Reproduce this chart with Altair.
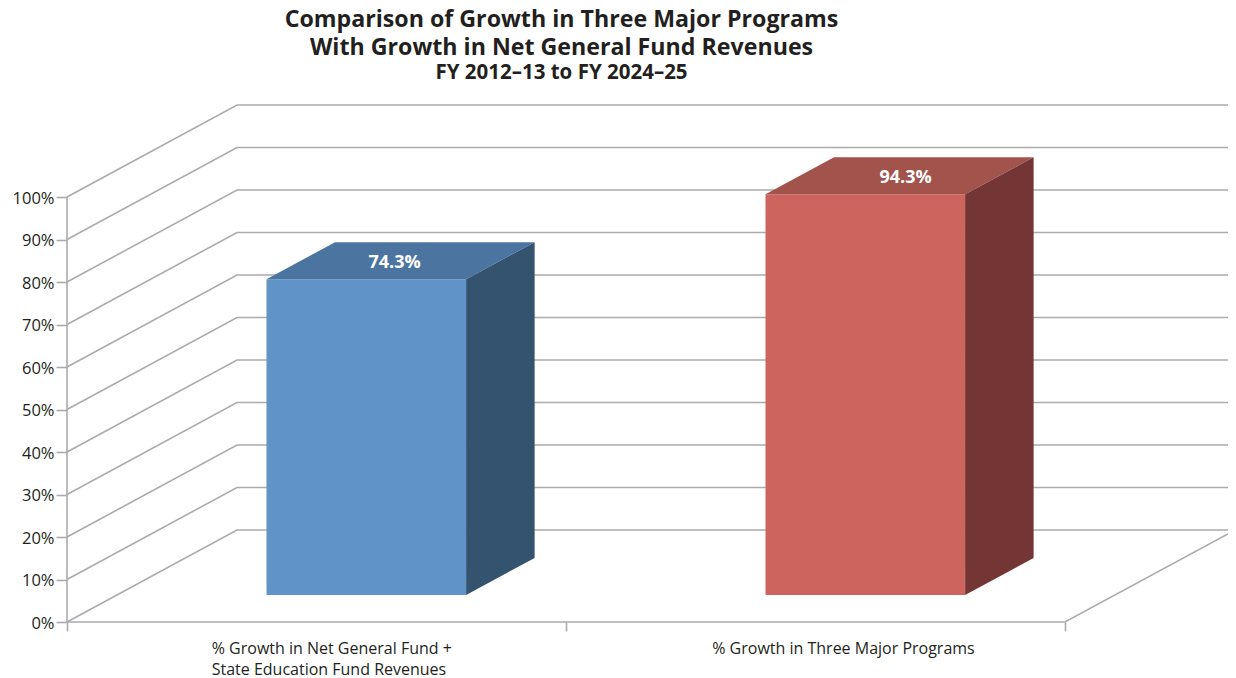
import altair as alt
import pandas as pd

categories = ["% Growth in Net General Fund +|State Education Fund Revenues", "% Growth in Three Major Programs"]
values = [74.3, 94.3]
labels = ["74.3%", "94.3%"]
ticks = [0, 10, 20, 30, 40, 50, 60, 70, 80, 90, 100]
front_colors = ["#6094C9", "#CD655E"]
top_colors = ["#4B75A0", "#A2534B"]
side_colors = ["#34536F", "#743634"]

FONT = "Open Sans"
INK = "#231F20"
GRID = "#ABABAE"
DX = 170 / 499      # depth of the floor, in category slots
DY = 92 / 4.25      # depth of the floor, in percent units
D0, D1 = 0.293, 0.696
HALF = 0.2
NUDGE = [-0.012, 0.012]
WIDTH = 1161
XMAX, YMAX = 2 + DX, 100 + DY
XDOM = WIDTH / 499

x = alt.X("x:Q", scale=alt.Scale(domain=[0, XDOM], nice=False, zero=False),
          axis=alt.Axis(values=[0, 1, 2], labels=False, domain=False, grid=False,
                        tickSize=9, tickWidth=1.6, tickColor=GRID, title=None))
y = alt.Y("y:Q", scale=alt.Scale(domain=[0, YMAX], nice=False, zero=False),
          axis=alt.Axis(values=ticks, labelExpr="datum.value + '%'", domain=False, grid=False,
                        tickSize=11, tickWidth=1.6, tickColor=GRID, labelPadding=2, labelOffset=1,
                        labelFont=FONT, labelFontSize=16.5, labelColor=INK, title=None))

grid_rows = []
for t in ticks:
    grid_rows += [
        {"id": t, "o": 0, "x": 0, "y": t},
        {"id": t, "o": 1, "x": DX, "y": t + DY},
        {"id": t, "o": 2, "x": XMAX, "y": t + DY},
    ]
grid_rows += [
    {"id": -1, "o": 0, "x": 0, "y": 0},
    {"id": -1, "o": 1, "x": 2, "y": 0},
    {"id": -1, "o": 2, "x": XMAX, "y": DY},
]
grid = alt.Chart(pd.DataFrame(grid_rows)).mark_line(color=GRID, strokeWidth=1.6).encode(
    x=x, y=y, detail="id:N", order="o:Q"
)
y_line = alt.Chart(pd.DataFrame({"x": [0], "y": [0], "y2": [100]})).mark_rule(
    color=GRID, strokeWidth=1.6
).encode(x=x, y=y, y2="y2:Q")

front_rows, top_rows, side_rows, label_rows = [], [], [], []
for i, v in enumerate(values):
    c = i + 0.5
    front_rows.append({"i": i, "x": c - HALF + D0 * DX, "x2": c + HALF + D0 * DX,
                       "y": D0 * DY, "y2": v + D0 * DY, "c": front_colors[i]})
    for d in (D0, D1):
        top_rows.append({"i": i, "y": v + d * DY, "x": c - HALF + d * DX, "x2": c + HALF + d * DX, "c": top_colors[i]})
        side_rows.append({"i": i, "x": c + HALF + d * DX, "y": d * DY, "y2": v + d * DY, "c": side_colors[i]})
    m = (D0 + D1) / 2
    label_rows.append({"x": c + m * DX + NUDGE[i], "y": v + m * DY - 0.5, "t": labels[i]})

front = alt.Chart(pd.DataFrame(front_rows)).mark_rect().encode(
    x=x, x2="x2:Q", y=y, y2="y2:Q", color=alt.Color("c:N", scale=None)
)
top = alt.Chart(pd.DataFrame(top_rows)).mark_area(orient="horizontal").encode(
    y=y, x=x, x2="x2:Q", detail="i:N", color=alt.Color("c:N", scale=None)
)
side = alt.Chart(pd.DataFrame(side_rows)).mark_area(orient="vertical").encode(
    x=x, y=y, y2="y2:Q", detail="i:N", color=alt.Color("c:N", scale=None)
)
bar_labels = alt.Chart(pd.DataFrame(label_rows)).mark_text(
    font=FONT, fontSize=18, fontWeight="bold", color="white", baseline="middle", align="center"
).encode(x=x, y=y, text="t:N")

cat_rows = [{"x": i + 0.29 + 0.003 * i, "t": c.split("|")} for i, c in enumerate(categories)]
cat_labels = alt.Chart(pd.DataFrame(cat_rows)).mark_text(
    font=FONT, fontSize=16, color=INK, align="left", baseline="alphabetic", lineHeight=20.5
).encode(x=x, y=alt.value(549), text="t")

chart = alt.layer(grid, y_line, front, top, side, bar_labels, cat_labels).properties(
    width=WIDTH,
    height=517,
    padding={"left": 59, "top": 97, "right": 0, "bottom": 56},
    autosize=alt.AutoSizeParams(type="none"),
    title=alt.TitleParams(
        text=["Comparison of Growth in Three Major Programs", "With Growth in Net General Fund Revenues"],
        subtitle="FY 2012–13 to FY 2024–25",
        anchor="middle", dx=-86, offset=17,
        font=FONT, fontSize=23.2, fontWeight="bold", color=INK, lineHeight=28,
        subtitleFont=FONT, subtitleFontSize=20.5, subtitleFontWeight="bold", subtitleColor=INK,
        subtitlePadding=3,
    ),
).configure_view(stroke=None)

chart.save("out.html", embed_options={"renderer": "svg", "actions": False})
